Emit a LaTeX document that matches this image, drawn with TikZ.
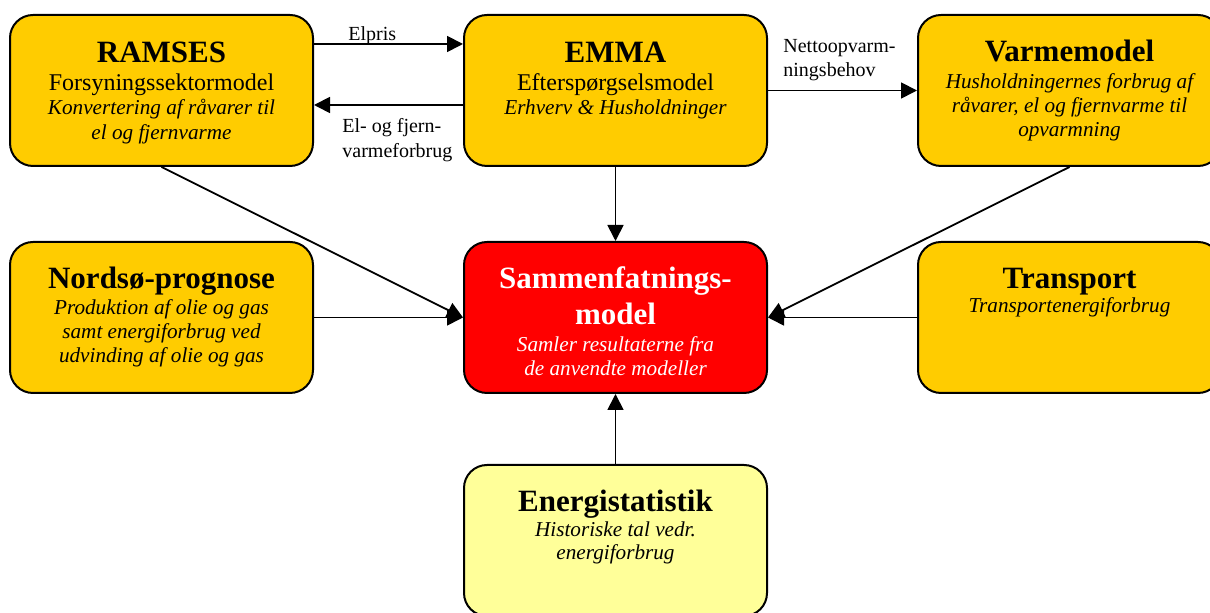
\documentclass[tikz,border=0pt]{standalone}
\usepackage{fontspec}
\setmainfont{Liberation Serif}
\usetikzlibrary{arrows.meta,calc}
\definecolor{gold}{HTML}{FFCC00}
\definecolor{pale}{HTML}{FFFF99}
\definecolor{redbox}{HTML}{FF0000}
\tikzset{
  box/.style={draw=black, line width=1pt, rounded corners=11.5pt, minimum width=151.5pt, minimum height=75.5pt, inner sep=0pt, fill=gold},
  ttl/.style={font=\fontsize{15.5}{18}\selectfont\bfseries, anchor=base, inner sep=0pt},
  sub/.style={font=\fontsize{12}{14}\selectfont, anchor=base, inner sep=0pt},
  itl/.style={font=\fontsize{10.6}{12.5}\selectfont\itshape, anchor=base, inner sep=0pt},
  lbl/.style={font=\fontsize{10}{12}\selectfont, anchor=base west, inner sep=0pt},
  conn/.style={line width=0.9pt, -{Triangle[length=8pt,width=8pt]}}
}
\begin{document}
\begin{tikzpicture}[x=0.5pt,y=-0.5pt]
\clip (0,0) rectangle (1210,613);
\fill[white] (0,0) rectangle (1210,613);
% boxes
\node[box] (ramses) at (161.5,90.5) {};
\node[box] (emma) at (615.5,90.5) {};
\node[box] (varme) at (1069.5,90.5) {};
\node[box] (nord) at (161.5,317.5) {};
\node[box, fill=redbox] (sam) at (615.5,317.5) {};
\node[box] (trans) at (1069.5,317.5) {};
\node[box, fill=pale] (energi) at (615.5,540.5) {};
% RAMSES
\node[ttl] (ramsesT) at (161.5,63) {RAMSES};
\node[sub] (ramsesS) at (161.5,91) {Forsyningssektormodel};
\node[itl] (ramsesI1) at (161.5,115) {Konvertering af råvarer til};
\node[itl] (ramsesI2) at (161.5,140) {el og fjernvarme};
% EMMA
\node[ttl] (emmaT) at (615.5,63) {EMMA};
\node[sub] (emmaS) at (615.5,91) {Efterspørgselsmodel};
\node[itl] (emmaI1) at (615.5,115) {Erhverv \& Husholdninger};
% Varmemodel
\node[ttl] (varmeT) at (1069.5,62) {Varmemodel};
\node[itl] (varmeI1) at (1069.5,89) {Husholdningernes forbrug af};
\node[itl] (varmeI2) at (1069.5,113) {råvarer, el og fjernvarme til};
\node[itl] (varmeI3) at (1069.5,137) {opvarmning};
% Nordsø
\node[ttl] (nordT) at (161.5,289) {Nordsø-prognose};
\node[itl] (nordI1) at (161.5,315) {Produktion af olie og gas};
\node[itl] (nordI2) at (161.5,339) {samt energiforbrug ved};
\node[itl] (nordI3) at (161.5,363) {udvinding af olie og gas};
% Sammenfatning
\node[ttl, text=white] (samT1) at (615.5,289) {Sammenfatnings-};
\node[ttl, text=white] (samT2) at (615.5,325) {model};
\node[itl, text=white] (samI1) at (615.5,352) {Samler resultaterne fra};
\node[itl, text=white] (samI2) at (615.5,376) {de anvendte modeller};
% Transport
\node[ttl] (transT) at (1069.5,289) {Transport};
\node[itl] (transI1) at (1069.5,313) {Transportenergiforbrug};
% Energistatistik
\node[ttl] (energiT) at (615.5,512) {Energistatistik};
\node[itl] (energiI1) at (615.5,537) {Historiske tal vedr.};
\node[itl] (energiI2) at (615.5,560) {energiforbrug};
% connectors
\draw[conn] ($(ramses.north east)+(0,30)$) -- ($(emma.north west)+(0,30)$);
\node[lbl] (elpris) at (348,41) {Elpris};
\draw[conn] ($(emma.north west)+(0,91)$) -- ($(ramses.north east)+(0,91)$);
\node[lbl] (elfj1) at (342,133) {El- og fjern-};
\node[lbl] (elfj2) at (342,158) {varmeforbrug};
\draw[conn] (emma.east) -- (varme.west);
\node[lbl] (netto1) at (783,53) {Nettoopvarm-};
\node[lbl] (netto2) at (783,77) {ningsbehov};
\draw[conn] (ramses.south) -- (sam.west);
\draw[conn] (nord.east) -- (sam.west);
\draw[conn] (emma.south) -- (sam.north);
\draw[conn] (varme.south) -- (sam.east);
\draw[conn] (trans.west) -- (sam.east);
\draw[conn] (energi.north) -- (sam.south);
\end{tikzpicture}
\end{document}
